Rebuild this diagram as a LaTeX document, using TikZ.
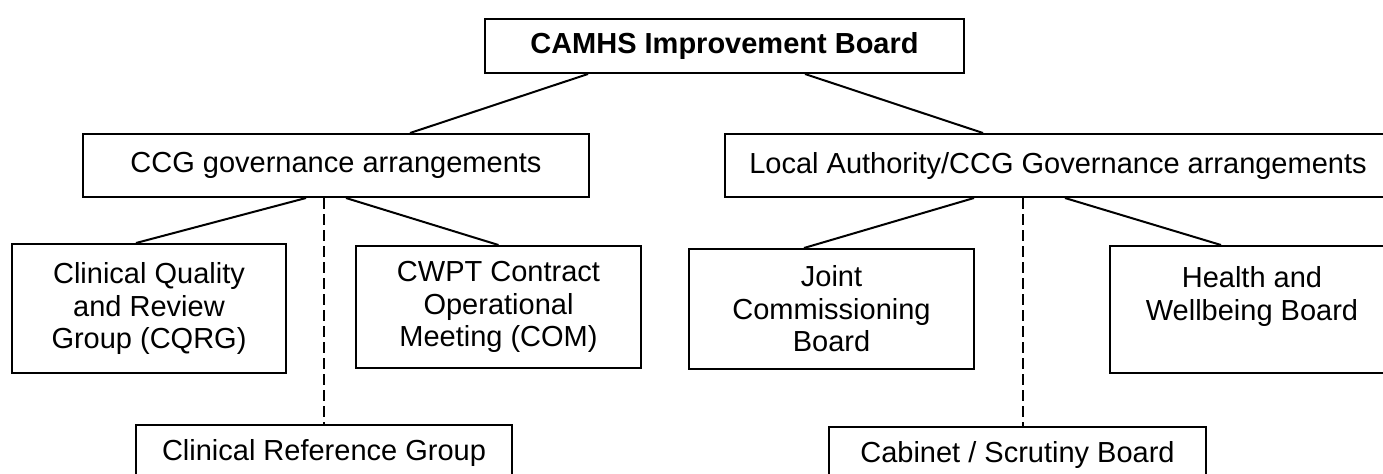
\documentclass[tikz,border=0pt]{standalone}
\usepackage{fontspec}
\setmainfont{Liberation Sans}
\usetikzlibrary{calc}

\tikzset{
  govbox/.style={draw, line width=1pt, rectangle, inner sep=0pt, align=center,
                 font=\fontsize{14.5}{16.25}\selectfont},
  link/.style={line width=1pt},
  dottedlink/.style={line width=1pt, dash pattern=on 5.5pt off 2.5pt}
}

\begin{document}
\begin{tikzpicture}[x=0.5pt,y=-0.5pt]
  \clip (0,0) rectangle (1383,473);
  \fill[white] (0,0) rectangle (1383,473);
  \node[govbox, minimum width=239.5pt, minimum height=27pt]   (top)  at (724.5,46)  {\textbf{CAMHS Improvement Board}};
  \node[govbox, minimum width=253pt,   minimum height=31.5pt] (ccg)  at (336,165.5) {CCG governance arrangements};
  \node[govbox, minimum width=333pt,   minimum height=31.5pt] (la)   at (1058,165.5) {Local Authority/CCG Governance arrangements};
  \node[govbox, minimum width=136.75pt, minimum height=64.5pt] (cqrg) at (149,308.5) {Clinical Quality\\and Review\\Group (CQRG)};
  \node[govbox, minimum width=142.5pt, minimum height=61pt]   (com)  at (498.5,307) {CWPT Contract\\Operational\\Meeting (COM)};
  \node[govbox, minimum width=142.5pt, minimum height=60pt]   (jcb)  at (831.5,309) {Joint\\Commissioning\\Board};
  \node[govbox, minimum width=142pt,   minimum height=63.5pt] (hwb)  at (1252,309.5) {Health and\\Wellbeing Board\\\mbox{}};
  \node[govbox, minimum width=188pt,   minimum height=28pt]   (crg)  at (324,453)   {Clinical Reference Group};
  \node[govbox, minimum width=188.5pt, minimum height=28pt]   (cab)  at (1017.5,455) {Cabinet / Scrutiny Board};
  % solid links
  \draw[link] ($(top.south)+(-136.5,0)$) -- ($(ccg.north)+(74,0)$);
  \draw[link] ($(top.south)+(80.5,0)$)   -- ($(la.north)+(-75,0)$);
  \draw[link] ($(ccg.south)+(-30,0)$)    -- ($(cqrg.north)+(-13,0)$);
  \draw[link] ($(ccg.south)+(10,0)$)     -- (com.north);
  \draw[link] ($(la.south)+(-84,0)$)     -- ($(jcb.north)+(-27.5,0)$);
  \draw[link] ($(la.south)+(7,0)$)       -- ($(hwb.north)+(-31,0)$);
  % dashed links
  \draw[dottedlink] (crg.north |- ccg.south) -- (crg.north);
  \draw[dottedlink] ($(la.south)+(-35,0)$) -- ($(cab.north)+(5.5,0)$);
\end{tikzpicture}
\end{document}
